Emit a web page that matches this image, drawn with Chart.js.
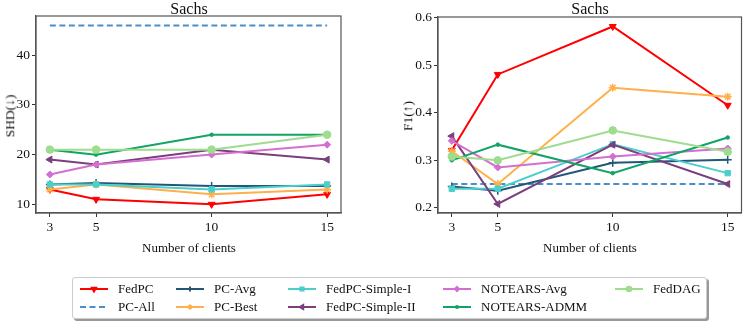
<!DOCTYPE html>
<html>
<head>
<meta charset="utf-8">
<script src="https://cdn.jsdelivr.net/npm/chart.js@4.4.1/dist/chart.umd.min.js"></script>
<style>
  body{margin:0;background:#fff;width:747px;height:325px;position:relative;overflow:hidden;
       font-family:"Liberation Serif","DejaVu Serif",serif;color:#111}
  canvas.plot{position:absolute;top:0}
  .t{position:absolute;white-space:nowrap;line-height:1}
  .title{font-size:16px;transform:translate(-50%,-50%)}
  .xlab{font-size:13px;transform:translate(-50%,-50%)}
  .ylab{font-size:13.5px;transform:translate(-50%,-50%) rotate(-90deg)}
  #legend{position:absolute;left:72px;top:277px;width:633px;height:40px;border:1px solid #ccc;
          border-radius:3px;background:#fff;box-shadow:2px 2px 0 #999}
  .li{position:absolute;height:16px;font-size:13px;display:flex;align-items:center}
</style>
</head>
<body>
<canvas id="c1" class="plot" style="left:0" width="370" height="260"></canvas>
<canvas id="c2" class="plot" style="left:370px" width="377" height="260"></canvas>

<div class="t title" style="left:189px;top:9px">Sachs</div>
<div class="t title" style="left:590px;top:9px">Sachs</div>
<div class="t xlab" style="left:189px;top:247px">Number of clients</div>
<div class="t xlab" style="left:590px;top:247px">Number of clients</div>
<div class="t ylab" style="left:10px;top:116px">SHD(↓)</div>
<div class="t ylab" style="left:408px;top:116px">F1(↑)</div>
<div id="legend"></div>

<script>
// x values (number of clients)
const clients = [3, 5, 10, 15];
const xTicks = [3, 5, 10, 15];

const methods = ["FedPC", "PC-All", "PC-Avg", "PC-Best", "FedPC-Simple-I",
                 "FedPC-Simple-II", "NOTEARS-Avg", "NOTEARS-ADMM", "FedDAG"];

// SHD (lower is better)
const shdFedPC        = [13, 11, 10, 12];
const shdPCAll        = [46, 46, 46, 46];
const shdPCAvg        = [14, 14.3, 13.7, 13.7];
const shdPCBest       = [13, 14, 12, 13];
const shdSimpleI      = [14, 14, 13, 14];
const shdSimpleII     = [19, 18, 21, 19];
const shdNotearsAvg   = [16, 18, 20, 22];
const shdNotearsAdmm  = [21, 20, 24, 24];
const shdFedDAG       = [21, 21, 21, 24];
const shdTicks = [10, 20, 30, 40];

// F1 (higher is better)
const f1FedPC       = [0.321, 0.481, 0.582, 0.416];
const f1PCAll       = [0.25, 0.25, 0.25, 0.25];
const f1PCAvg       = [0.245, 0.236, 0.295, 0.301];
const f1PCBest      = [0.319, 0.25, 0.453, 0.434];
const f1SimpleI     = [0.24, 0.24, 0.334, 0.273];
const f1SimpleII    = [0.351, 0.208, 0.333, 0.25];
const f1NotearsAvg  = [0.341, 0.285, 0.308, 0.325];
const f1NotearsAdmm = [0.30, 0.333, 0.273, 0.348];
const f1FedDAG      = [0.308, 0.30, 0.363, 0.318];
const f1Ticks = [0.2, 0.3, 0.4, 0.5, 0.6];

// styles
const colors = ["#ff0000", "#4a8fcc", "#22577a", "#ffb04a", "#4ccfcb",
                "#7a3f7c", "#d46fd0", "#12a467", "#9edc8e"];
const pStyles = ["triangle", false, "cross", "star", "rect", "triangle", "rectRot", "circle", "circle"];
const pRot    = [180, 0, 0, 0, 0, -90, 0, 0, 0];
const pRad    = [4, 0, 4, 4, 3.8, 4, 3.5, 1.8, 3.8];

const spine = "#555";

const boxPlugin = {
  id: "box",
  afterDraw(chart) {
    const {ctx, chartArea: a} = chart;
    ctx.save();
    ctx.strokeStyle = spine;
    ctx.lineWidth = 1.2;
    ctx.strokeRect(a.left, a.top, a.right - a.left, a.bottom - a.top);
    ctx.restore();
  }
};

function makeChart(id, series, yMin, yMax, yTicks, yFmt, yWidth, padRight, padTop) {
  const datasets = series.map((vals, i) => ({
    label: methods[i],
    data: clients.map((c, j) => ({x: c, y: vals[j]})),
    borderColor: colors[i],
    backgroundColor: colors[i],
    borderWidth: 2,
    borderDash: i === 1 ? [6, 3.5] : [],
    pointStyle: pStyles[i],
    rotation: pRot[i],
    pointRadius: pRad[i],
    pointHoverRadius: pRad[i],
    pointBorderWidth: pStyles[i] === "cross" || pStyles[i] === "star" ? 1.5 : 1,
    pointBackgroundColor: colors[i],
    pointBorderColor: colors[i],
    order: series.length - i,
    tension: 0
  }));
  return new Chart(document.getElementById(id), {
    type: "line",
    data: {datasets},
    options: {
      responsive: false,
      animation: false,
      layout: {padding: {left: 0, right: padRight, top: padTop, bottom: 0}},
      plugins: {legend: {display: false}, tooltip: {enabled: false}, title: {display: false}},
      scales: {
        x: {
          type: "linear", min: 2.4, max: 15.6,
          afterBuildTicks: s => { s.ticks = xTicks.map(v => ({value: v})); },
          afterFit: s => { s.height = 47; },
          grid: {drawOnChartArea: false, drawTicks: true, tickLength: 4, color: "#333"},
          border: {display: true, color: spine, width: 1.2},
          ticks: {color: "#111", padding: 2, font: {family: "Liberation Serif", size: 13.5}, maxRotation: 0}
        },
        y: {
          type: "linear", min: yMin, max: yMax,
          afterBuildTicks: s => { s.ticks = yTicks.map(v => ({value: v})); },
          afterFit: s => { s.width = yWidth; },
          grid: {drawOnChartArea: false, drawTicks: true, tickLength: 4, color: "#333"},
          border: {display: true, color: spine, width: 1.2},
          ticks: {color: "#111", padding: 2, font: {family: "Liberation Serif", size: 13.5},
                  callback: v => yFmt(v)}
        }
      }
    },
    plugins: [boxPlugin]
  });
}

makeChart("c1",
  [shdFedPC, shdPCAll, shdPCAvg, shdPCBest, shdSimpleI, shdSimpleII, shdNotearsAvg, shdNotearsAdmm, shdFedDAG],
  8.25, 47.9, shdTicks, v => String(v), 36, 29, 16);

makeChart("c2",
  [f1FedPC, f1PCAll, f1PCAvg, f1PCBest, f1SimpleI, f1SimpleII, f1NotearsAvg, f1NotearsAdmm, f1FedDAG],
  0.189, 0.602, f1Ticks, v => v.toFixed(1), 68, 5, 17);

// legend (matplotlib style, 5 columns, filled column by column)
const legText = [117, 213, 325, 480, 652];
const legRows = [280, 298];
const legLeft = 72, legTop = 277;
const legend = document.getElementById("legend");
methods.forEach((name, i) => {
  const col = Math.floor(i / 2), row = i % 2;
  const item = document.createElement("div");
  item.className = "li";
  item.style.left = (legText[col] - 38 - legLeft) + "px";
  item.style.top = (legRows[row] - legTop) + "px";
  const cv = document.createElement("canvas");
  cv.width = 28; cv.height = 16;
  cv.style.marginRight = "10px";
  const ctx = cv.getContext("2d");
  ctx.strokeStyle = colors[i];
  ctx.fillStyle = colors[i];
  ctx.lineWidth = 2;
  if (i === 1) ctx.setLineDash([6, 3.5]);
  ctx.beginPath(); ctx.moveTo(0, 8); ctx.lineTo(28, 8); ctx.stroke();
  ctx.setLineDash([]);
  if (pStyles[i]) {
    Chart.helpers.drawPoint(ctx, {
      pointStyle: pStyles[i], rotation: pRot[i], radius: pRad[i] * 0.6,
      borderWidth: 1
    }, 14, 8);
  }
  item.appendChild(cv);
  const sp = document.createElement("span");
  sp.textContent = name;
  item.appendChild(sp);
  legend.appendChild(item);
});
</script>
</body>
</html>
